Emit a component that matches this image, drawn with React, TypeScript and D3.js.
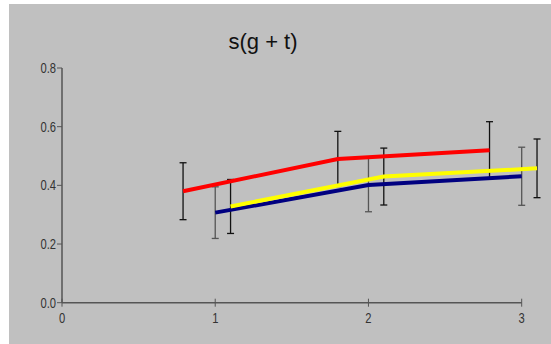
import React from "react";
import * as d3 from "d3";

const title = "s(g + t)";
const xTicks = [0, 1, 2, 3];
const yTicks = [0.0, 0.2, 0.4, 0.6, 0.8];

const redX = [0.79, 1.8, 2.79];
const redY = [0.38, 0.49, 0.52];
const redErr = [0.097, 0.094, 0.097];

const blueX = [1.0, 2.0, 3.0];
const blueY = [0.307, 0.401, 0.431];
const blueErr = [0.088, 0.091, 0.099];

const yellowX = [1.1, 2.1, 3.1];
const yellowY = [0.328, 0.43, 0.458];
const yellowErr = [0.092, 0.097, 0.1];

const series = [
  { name: "red", xs: redX, ys: redY, err: redErr, color: "#ff0000", errColor: "#111111" },
  { name: "yellow", xs: yellowX, ys: yellowY, err: yellowErr, color: "#ffff00", errColor: "#111111" },
  { name: "blue", xs: blueX, ys: blueY, err: blueErr, color: "#000080", errColor: "#555555" },
];

export default function App() {
  const W = 551, H = 344;
  const x = d3.scaleLinear().domain([0, 3]).range([62, 521.7]);
  const y = d3.scaleLinear().domain([0, 0.8]).range([302.7, 68]);
  const line = d3.line<[number, number]>().x(d => x(d[0])).y(d => y(d[1]));
  const font = "'Liberation Sans', Arial, sans-serif";
  const axisColor = "#555555";
  const order = ["red", "blue", "yellow"];
  const sx = 0.8;
  return (
    <svg width={W} height={H} style={{ position: "absolute", left: 0, top: 0 }}>
      <rect x={0} y={0} width={W} height={H} fill="#ffffff" />
      <rect x={9} y={4} width={W - 9} height={H - 4} fill="#c0c0c0" />
      <text x={263} y={49} textAnchor="middle" fontFamily={font} fontSize={22} fill="#111">{title}</text>
      {/* axes */}
      <line x1={x(0)} x2={x(0)} y1={y(0)} y2={y(0.8)} stroke={axisColor} strokeWidth={1.5} />
      <line x1={x(0)} x2={x(3)} y1={y(0)} y2={y(0)} stroke={axisColor} strokeWidth={1.5} />
      {yTicks.map(t => (
        <g key={"y" + t}>
          <line x1={x(0) - 5} x2={x(0)} y1={y(t)} y2={y(t)} stroke={axisColor} strokeWidth={1} />
          <text transform={`translate(${x(0) - 6},${y(t) + 5}) scale(${sx},1)`} textAnchor="end" fontFamily={font} fontSize={14} fill="#333">{t.toFixed(1)}</text>
        </g>
      ))}
      {xTicks.map(t => (
        <g key={"x" + t}>
          <line x1={x(t)} x2={x(t)} y1={y(0) - 4} y2={y(0) + 4} stroke={axisColor} strokeWidth={1} />
          <text transform={`translate(${x(t)},${y(0) + 20}) scale(${sx},1)`} textAnchor="middle" fontFamily={font} fontSize={14} fill="#333">{t}</text>
        </g>
      ))}
      {/* error bars */}
      {series.map(s => s.xs.map((xv, i) => (
        <g key={s.name + "e" + i} stroke={s.errColor} strokeWidth={1.3}>
          <line x1={x(xv)} x2={x(xv)} y1={y(s.ys[i] + s.err[i])} y2={y(s.ys[i] - s.err[i])} />
          <line x1={x(xv) - 3.5} x2={x(xv) + 3.5} y1={y(s.ys[i] + s.err[i])} y2={y(s.ys[i] + s.err[i])} />
          <line x1={x(xv) - 3.5} x2={x(xv) + 3.5} y1={y(s.ys[i] - s.err[i])} y2={y(s.ys[i] - s.err[i])} />
        </g>
      )))}
      {/* lines */}
      {order.map(n => {
        const s = series.find(v => v.name === n)!;
        const pts = s.xs.map((xv, i) => [xv, s.ys[i]] as [number, number]);
        return <path key={n} d={line(pts) || ""} fill="none" stroke={s.color} strokeWidth={4} />;
      })}
    </svg>
  );
}
